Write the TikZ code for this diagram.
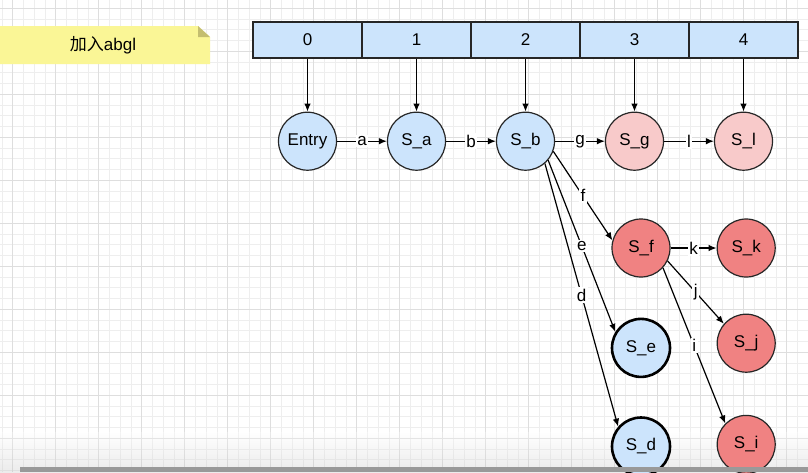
\documentclass[tikz,border=0pt]{standalone}
\usepackage{fontspec}
\setmainfont{Liberation Sans}
\newfontfamily\cjk{Noto Sans CJK SC}
\usetikzlibrary{arrows.meta}
\usetikzlibrary{positioning}
\definecolor{stateblue}{RGB}{204,228,252}
\definecolor{palered}{RGB}{248,202,202}
\definecolor{deepred}{RGB}{240,130,130}
\definecolor{noteyellow}{RGB}{250,246,150}
\definecolor{notefold}{RGB}{196,190,112}
\definecolor{gridminor}{RGB}{238,238,238}
\definecolor{gridmajor}{RGB}{222,222,222}

\begin{document}
\begin{tikzpicture}[
    x=1pt, y=1pt,
    font=\fontsize{17}{20}\selectfont,
    link/.style={-{Latex[length=8, width=6.5]}, line width=1.2},
    state/.style={circle, minimum size=58, inner sep=0, draw=black!85,
        line width=1.2, fill=stateblue},
    hot/.style={fill=palered},
    fired/.style={fill=deepred},
    final/.style={line width=2.6, draw=black},
    cell/.style={rectangle, minimum width=109, minimum height=36, inner sep=0,
        draw=black!85, line width=1.2, fill=stateblue},
    lbl/.style={fill=white, inner sep=1.5},
    ]
    \useasboundingbox (0,0) rectangle (808,-472);
    \fill[white] (0,0) rectangle (808,-472);

    % grid
    \foreach \x in {1.95,12.7,...,808} {
        \draw[gridminor, line width=0.8] (\x,0) -- (\x,-472);
    }
    \foreach \y in {8.3,19.05,...,472} {
        \draw[gridminor, line width=0.8] (0,-\y) -- (808,-\y);
    }
    \foreach \x in {12.7,55.7,...,808} {
        \draw[gridmajor, line width=1.2] (\x,0) -- (\x,-472);
    }
    \foreach \y in {8.3,51.3,...,472} {
        \draw[gridmajor, line width=1.2] (0,-\y) -- (808,-\y);
    }
    \shade[top color=white, bottom color=black!25, opacity=0.3] (0,-432) rectangle (808,-472);

    % note
    \fill[noteyellow] (-5,-26) -- (198,-26) -- (210,-37) -- (210,-64) -- (-5,-64) -- cycle;
    \fill[notefold] (198,-26) -- (198,-37) -- (210,-37) -- cycle;
    \node (note) at (103,-45) {{\cjk 加入}abgl};

    % array
    \foreach \i in {0,...,4} {
        \node[cell] (c\i) at (307.5+109*\i, -40) {\i};
    }

    \node[state] (entry) [below=53 of c0] {Entry};
    \node[state] (sa) [below=53 of c1] {S\_a};
    \node[state] (sb) [below=53 of c2] {S\_b};
    \node[state, hot] (sg) [below=53 of c3] {S\_g};
    \node[state, hot] (sl) [below=53 of c4] {S\_l};
    \node[state, fired] (sf) at (641,-248) {S\_f};
    \node[state, fired] (sk) [right=46 of sf] {S\_k};
    \node[state, fired] (sj) [below=36 of sk] {S\_j};
    \node[state, fired] (si) [below=42 of sj] {S\_i};
    \node[state, final] (se) [below=40 of sf] {S\_e};
    \node[state, final] (sd) [below=38 of se] {S\_d};

    \foreach \i/\s in {0/entry, 1/sa, 2/sb, 3/sg, 4/sl} {
        \draw[link] (c\i) -- (\s);
    }
    \foreach \a/\b/\t in {entry/sa/a, sa/sb/b, sb/sg/g, sg/sl/l, sf/sk/k} {
        \draw[link] (\a) -- node[lbl] {\t} (\b);
    }
    \draw[link] (sb.-20) -- node[lbl] {f} (sf.165);
    \draw[link] (sb.-40) -- node[lbl] {e} (se.148);
    \draw[link] (sb.-49) -- node[lbl] {d} (sd.139);
    \draw[link] (sf.-26) -- node[lbl] {j} (sj.139);
    \draw[link] (sf.-42) -- node[lbl] {i} (si.135);

    % bottom bar of the screen
    \fill[black!40] (20,-467) rectangle (808,-472);
\end{tikzpicture}
\end{document}
